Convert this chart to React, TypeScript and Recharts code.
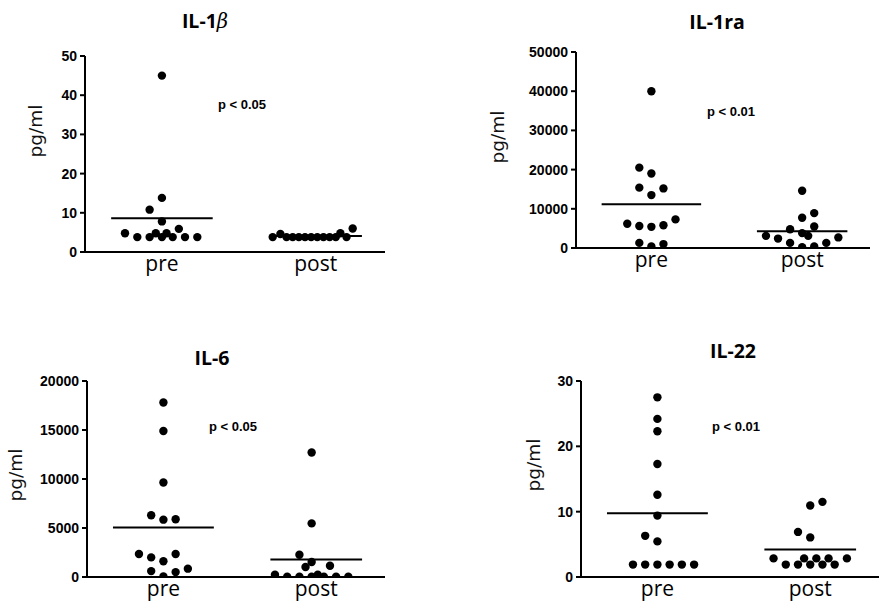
import { ScatterChart, Scatter, XAxis, YAxis, ReferenceLine } from "recharts"

const groups = ["pre", "post"]

// IL-1beta (pg/ml)
const il1bPre = [45, 13.8, 10.8, 7.8, 4.8, 3.8, 3.8, 4.8, 3.8, 4.8, 3.8, 5.9, 3.8, 3.8]
const il1bPreX = [1, 1, 0.92, 1, 0.76, 0.84, 0.92, 0.96, 1, 1.03, 1.07, 1.11, 1.15, 1.23]
const il1bPost = [3.8, 4.6, 3.8, 3.8, 3.8, 3.8, 3.8, 3.8, 3.8, 3.8, 3.8, 4.8, 3.8, 6]
const il1bPostX = [1.72, 1.77, 1.81, 1.85, 1.89, 1.93, 1.97, 2.01, 2.05, 2.09, 2.13, 2.16, 2.2, 2.24]

// IL-1ra
const il1raPre = [40000, 20500, 19000, 15400, 15200, 13500, 6200, 5600, 5400, 5800, 7300, 1300, 400, 1000]
const il1raPreX = [1, 0.92, 1, 0.92, 1.08, 1, 0.84, 0.92, 1, 1.08, 1.16, 0.92, 1, 1.08]
const il1raPost = [14600, 7700, 8900, 5500, 4800, 3800, 3100, 3100, 2400, 1300, 200, 400, 1300, 2700]
const il1raPostX = [2, 2, 2.08, 2.08, 1.92, 2, 2.04, 1.76, 1.84, 1.92, 2, 2.08, 2.16, 2.24]

// IL-6
const il6Pre = [17800, 14900, 9650, 6300, 5850, 5900, 2350, 2000, 1600, 2350, 600, 50, 500, 850]
const il6PreX = [1, 1, 1, 0.92, 1, 1.08, 0.84, 0.92, 1, 1.08, 0.92, 1, 1.08, 1.16]
const il6Post = [12700, 5470, 2275, 1530, 1020, 1155, 240, 34, 34, 34, 240, 34, 34, 34]
const il6PostX = [1.97, 1.97, 1.89, 1.97, 1.93, 2.09, 1.73, 1.81, 1.89, 1.97, 2.01, 2.05, 2.13, 2.21]

// IL-22
const il22Pre = [27.5, 24.2, 22.3, 17.3, 12.6, 9.4, 5.45, 6.3, 1.9, 1.9, 1.9, 1.9, 1.9, 1.9]
const il22PreX = [1, 1, 1, 1, 1, 1, 1, 0.92, 0.84, 0.92, 1, 1.08, 1.16, 1.24]
const il22Post = [10.95, 11.5, 6.9, 6.06, 2.85, 1.9, 1.9, 2.85, 1.9, 2.85, 1.9, 2.85, 1.9, 2.85]
const il22PostX = [2, 2.08, 1.92, 2, 1.76, 1.84, 1.92, 1.96, 2, 2.04, 2.08, 2.12, 2.16, 2.24]

const zip = (xs: number[], ys: number[]) => ys.map((y, i) => ({ x: xs[i], y }))
const mean = (ys: number[]) => ys.reduce((a, b) => a + b, 0) / ys.length

const dot = (p: any) => <circle cx={p.cx} cy={p.cy} r={4.2} fill="#000" />

const tickFont = { fontFamily: "Liberation Sans, Arial, sans-serif", fontSize: 14, fontWeight: 700, fill: "#000" }
const catFont = { fontFamily: "Open Sans, sans-serif", fontSize: 21, fill: "#000" }

interface PanelProps {
  left: number
  top: number
  title: React.ReactNode
  pText: string
  pre: number[]
  preX: number[]
  post: number[]
  postX: number[]
  yMax: number
  yTicks: number[]
  margin: { top: number; right: number; bottom: number; left: number }
  titlePos: [number, number]
  pPos: [number, number]
  labelPos: [number, number]
}

function Panel({ left, top, title, pText, pre, preX, post, postX, yMax, yTicks, margin, titlePos, pPos, labelPos }: PanelProps) {
  const mPre = mean(pre)
  const mPost = mean(post)
  return (
    <div style={{ position: "absolute", left, top, width: 442, height: 305 }}>
      <ScatterChart width={442} height={305} margin={margin}>
        <XAxis
          type="number"
          dataKey="x"
          domain={[0.5, 2.45]}
          ticks={[1, 2]}
          tickFormatter={(v) => groups[v - 1]}
          tick={catFont}
          tickLine={false}
          tickSize={0}
          tickMargin={4}
          axisLine={{ stroke: "#000", strokeWidth: 2 }}
          height={30}
          allowDataOverflow
        />
        <YAxis
          type="number"
          dataKey="y"
          domain={[0, yMax]}
          ticks={yTicks}
          tick={tickFont}
          tickLine={{ stroke: "#000", strokeWidth: 2 }}
          tickSize={5}
          tickMargin={3}
          axisLine={{ stroke: "#000", strokeWidth: 2 }}
          width={60}
          allowDataOverflow
        />
        <ReferenceLine segment={[{ x: 0.67, y: mPre }, { x: 1.33, y: mPre }]} stroke="#000" strokeWidth={2} />
        <ReferenceLine segment={[{ x: 1.7, y: mPost }, { x: 2.3, y: mPost }]} stroke="#000" strokeWidth={2} />
        <Scatter data={zip(preX, pre)} shape={dot} isAnimationActive={false} />
        <Scatter data={zip(postX, post)} shape={dot} isAnimationActive={false} />
      </ScatterChart>
      <div
        style={{
          position: "absolute",
          left: titlePos[0],
          top: titlePos[1],
          transform: "translate(-50%, -50%)",
          fontFamily: "Open Sans, sans-serif",
          fontWeight: 700,
          fontSize: 19.5,
          whiteSpace: "nowrap",
        }}
      >
        {title}
      </div>
      <div
        style={{
          position: "absolute",
          left: pPos[0],
          top: pPos[1],
          transform: "translate(0, -50%)",
          fontFamily: "Liberation Sans, Arial, sans-serif",
          fontWeight: 700,
          fontSize: 13,
          whiteSpace: "nowrap",
        }}
      >
        {pText}
      </div>
      <div
        style={{
          position: "absolute",
          left: labelPos[0],
          top: labelPos[1],
          transform: "translate(-50%, -50%) rotate(-90deg)",
          fontFamily: "DejaVu Sans, sans-serif",
          fontSize: 18.5,
          color: "#111",
          whiteSpace: "nowrap",
        }}
      >
        pg/ml
      </div>
    </div>
  )
}

export default function App() {
  return (
    <div style={{ position: "absolute", left: 0, top: 0, width: 884, height: 610, background: "#fff" }}>
      <Panel
        left={0}
        top={0}
        title={
          <span>
            IL-1<span style={{ fontFamily: "DejaVu Serif, serif", fontStyle: "italic", fontWeight: 400 }}>β</span>
          </span>
        }
        pText="p < 0.05"
        pre={il1bPre}
        preX={il1bPreX}
        post={il1bPost}
        postX={il1bPostX}
        yMax={50}
        yTicks={[0, 10, 20, 30, 40, 50]}
        margin={{ top: 56, right: 57, bottom: 23, left: 25 }}
        titlePos={[205, 20]}
        pPos={[218, 104]}
        labelPos={[35, 131]}
      />
      <Panel
        left={442}
        top={0}
        title="IL-1ra"
        pText="p < 0.01"
        pre={il1raPre}
        preX={il1raPreX}
        post={il1raPost}
        postX={il1raPostX}
        yMax={50000}
        yTicks={[0, 10000, 20000, 30000, 40000, 50000]}
        margin={{ top: 52, right: 14, bottom: 27, left: 74 }}
        titlePos={[275, 21]}
        pPos={[265, 111]}
        labelPos={[55, 137]}
      />
      <Panel
        left={0}
        top={305}
        title="IL-6"
        pText="p < 0.05"
        pre={il6Pre}
        preX={il6PreX}
        post={il6Post}
        postX={il6PostX}
        yMax={20000}
        yTicks={[0, 5000, 10000, 15000, 20000]}
        margin={{ top: 76, right: 57, bottom: 3, left: 27 }}
        titlePos={[212, 52]}
        pPos={[209, 121]}
        labelPos={[15, 170]}
      />
      <Panel
        left={442}
        top={305}
        title="IL-22"
        pText="p < 0.01"
        pre={il22Pre}
        preX={il22PreX}
        post={il22Post}
        postX={il22PostX}
        yMax={30}
        yTicks={[0, 10, 20, 30]}
        margin={{ top: 76, right: 5, bottom: 3, left: 79 }}
        titlePos={[291, 45]}
        pPos={[270, 121]}
        labelPos={[91, 160]}
      />
    </div>
  )
}
